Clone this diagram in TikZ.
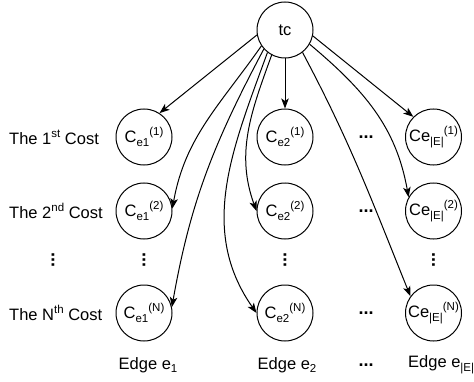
\documentclass[tikz,border=0pt]{standalone}
\usepackage{fontspec}
\setmainfont{Liberation Sans}
\usetikzlibrary{arrows.meta}
\newcommand\mysub[1]{\raisebox{-0.22em}{\fontsize{11.5}{13}\selectfont #1}}
\newcommand\mysup[1]{\raisebox{0.42em}{\fontsize{11.5}{13}\selectfont #1}}
\begin{document}
\begin{tikzpicture}[x=1pt,y=1pt,font=\fontsize{16.5}{19}\selectfont,
  cnode/.style={draw,circle,minimum size=56pt,inner sep=0pt,line width=1pt},
  conn/.style={line width=1pt,-{Stealth[length=10pt,width=7.5pt,inset=2.5pt]}},
  hdots/.style={font=\fontsize{18}{20}\selectfont\bfseries},
  vdots/.style={font=\fontsize{18}{20}\selectfont\bfseries,rotate=90},
  rowlab/.style={anchor=west,inner sep=0pt}]
\useasboundingbox (0,0) rectangle (474,381);
\clip (0,0) rectangle (474,381);
\node[cnode] (tc) at (285,351) {tc};
\node[cnode] (e11) at (144,244) {C\mysub{e1}\mysup{(1)}};
\node[cnode] (e12) at (144,170) {C\mysub{e1}\mysup{(2)}};
\node[cnode] (e1N) at (144,68) {C\mysub{e1}\mysup{(N)}};
\node[cnode] (e21) at (285,244) {C\mysub{e2}\mysup{(1)}};
\node[cnode] (e22) at (285,170) {C\mysub{e2}\mysup{(2)}};
\node[cnode] (e2N) at (285,68) {C\mysub{e2}\mysup{(N)}};
\node[cnode] (e31) at (433.5,244) {Ce\mysub{|E|}\mysup{(1)}};
\node[cnode] (e32) at (433.5,170) {Ce\mysub{|E|}\mysup{(2)}};
\node[cnode] (e3N) at (433.5,68) {Ce\mysub{|E|}\mysup{(N)}};
\node[rowlab] (l1) at (9,244) {The 1\mysup{st} Cost};
\node[rowlab] (l2) at (9,170) {The 2\mysup{nd} Cost};
\node[rowlab] (lN) at (9,68) {The N\mysup{th} Cost};
\node[vdots] (v0) at (53,121) {...};
\node[vdots] (v1) at (144,121) {...};
\node[vdots] (v2) at (285,121) {...};
\node[vdots] (v3) at (433.5,121) {...};
\node[hdots] (h1) at (366,244) {...};
\node[hdots] (h2) at (366,170) {...};
\node[hdots] (hN) at (366,68) {...};
\node[hdots] (hE) at (366,16) {...};
\node (ed1) at (148,16) {Edge e\mysub{1}};
\node (ed2) at (287,16) {Edge e\mysub{2}};
\node[anchor=west,inner sep=0pt] (ed3) at (408,16) {Edge e\mysub{|E|}};
\draw[conn] (tc.190) -- (e11.57);
\draw[conn] (tc.south) -- (e21.north);
\draw[conn] (tc.-12) -- (e31.135);
\draw[conn] (tc.214) to[out=235,in=80] (e12.5);
\draw[conn] (tc.222) to[out=242,in=80] (e1N.12);
\draw[conn] (tc.232) to[out=250,in=125] (e2N.180);
\draw[conn] (tc.242) to[out=250,in=110] (e22.180);
\draw[conn] (tc.308) to[out=298,in=112] (e3N.144);
\draw[conn] (tc.330) to[out=320,in=100] (e32.151);
\end{tikzpicture}
\end{document}
